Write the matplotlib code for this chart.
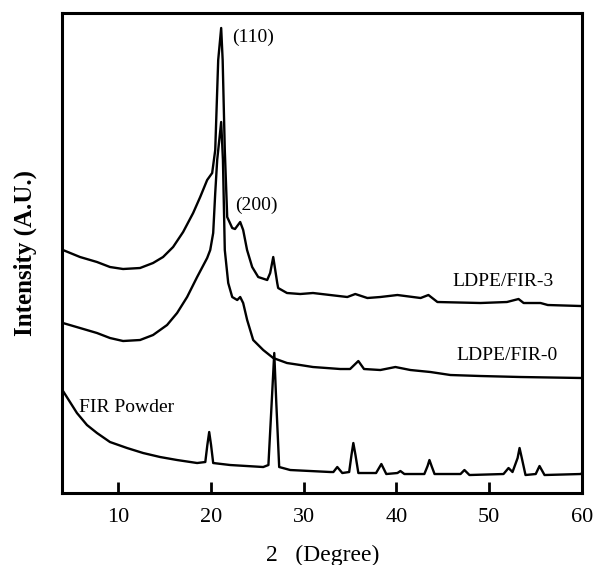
import matplotlib
matplotlib.use('Agg')
from matplotlib import pyplot as plt

plt.rcParams['font.family'] = ['Liberation Serif', 'DejaVu Serif']

# 2-theta (degree) and intensity (a.u.)
fir3_x = [4.06, 5.9, 7.73, 9.13, 10.54, 12.37, 13.77, 14.85, 15.93, 17.01,
          18.09, 18.85, 19.6, 20.14, 20.47, 20.79, 21.11, 21.27, 21.5, 21.76,
          22.3, 22.6, 23.16, 23.48, 23.9, 24.45, 25.1, 26.07, 26.39, 26.72,
          27.15, 27.25, 28.2, 29.63, 31.0, 34.7, 35.56, 36.86, 38.26, 40.1,
          42.6, 43.44, 44.41, 49.05, 51.9, 53.15, 53.7, 55.52, 56.3, 59.84,
          60.0]
fir3_y = [243, 236, 231, 226, 224, 225, 230, 236, 246, 261,
          280, 296, 313, 320, 343, 433, 465, 433, 343, 276,
          265, 264, 271, 263, 243, 226, 216, 213, 220, 236,
          210, 205, 200, 199, 200, 196, 199, 195, 196, 198,
          195, 198, 191, 190, 191, 194, 190, 190, 188, 187,
          187]

fir0_x = [4.06, 5.9, 7.73, 9.13, 10.54, 12.37, 13.77, 15.28, 16.36, 17.44,
          18.52, 19.6, 19.93, 20.25, 20.47, 20.68, 21.11, 21.3, 21.5, 21.87,
          22.3, 22.84, 23.16, 23.48, 23.91, 24.56, 25.64, 26.72, 28.2, 29.63,
          31.0, 33.94, 35.0, 35.89, 36.5, 38.26, 39.88, 41.5, 43.66, 45.81,
          49.05, 53.37, 60.0]
fir0_y = [170, 165, 160, 155, 152, 153, 158, 168, 180, 196,
          216, 235, 243, 260, 300, 333, 371, 333, 243, 210,
          196, 193, 196, 190, 173, 153, 143, 135, 130, 128,
          126, 124, 124, 132, 124, 123, 126, 123, 121, 118,
          117, 116, 115]

powder_x = [4.0, 4.82, 5.57, 6.65, 7.73, 9.13, 10.97, 12.7, 14.53, 16.36,
            18.52, 19.4, 19.62, 19.82, 20.02, 20.25, 22.08, 25.64, 26.2, 26.55,
            26.83, 27.05, 27.36, 28.55, 32.87, 33.2, 33.62, 34.16, 34.9, 35.15,
            35.35, 35.58, 35.89, 37.8, 38.37, 38.9, 40.1, 40.42, 40.85, 43.0,
            43.35, 43.55, 43.78, 44.1, 46.9, 47.32, 47.86, 51.53, 52.07, 52.5,
            53.05, 53.26, 53.5, 53.9, 55.0, 55.41, 55.95, 59.84, 60.0]
powder_y = [103, 91, 80, 68, 60, 51, 45, 40, 36, 33,
            30, 31, 48, 61, 48, 30, 28, 26, 28, 90,
            140, 90, 26, 23, 21, 21, 26, 20, 21, 38,
            50, 38, 20, 20, 29, 19, 20, 22, 19, 19,
            27, 33, 27, 19, 19, 23, 18, 19, 25, 21,
            35, 45, 35, 18, 19, 27, 18, 19, 20]

series = [(fir3_x, fir3_y), (fir0_x, fir0_y), (powder_x, powder_y)]

# label text, x, y
notes = [('(110)', 24.56, 456),
         ('(200)', 24.88, 288),
         ('LDPE/FIR-3', 51.5, 212),
         ('LDPE/FIR-0', 51.95, 138),
         ('FIR Powder', 10.97, 86)]

fig = plt.figure(figsize=(5.94, 5.65), dpi=100)
ax = fig.add_axes([0.105, 0.1274, 0.875, 0.8496])

for xs, ys in series:
  ax.plot(xs, ys, color='black', lw=1.7, solid_joinstyle='round')

for txt, tx, ty in notes:
  ax.text(tx, ty, txt, fontsize=14, ha='center', va='center')

ax.set_xlim(4, 60)
ax.set_ylim(0, 480)
ax.set_xticks([10, 20, 30, 40, 50, 60])
ax.set_yticks([])
ax.tick_params(axis='x', direction='in', length=8, width=2, pad=11,
               labelsize=16)
for sp in ax.spines.values():
  sp.set_linewidth(2.2)

ax.set_xlabel('2   (Degree)', fontsize=17)
ax.xaxis.set_label_coords(0.5, -0.108)
ax.set_ylabel('Intensity (A.U.)', fontsize=18, fontweight='bold')
ax.yaxis.set_label_coords(-0.049, 0.5)

fig.savefig('out.png', dpi=100)
